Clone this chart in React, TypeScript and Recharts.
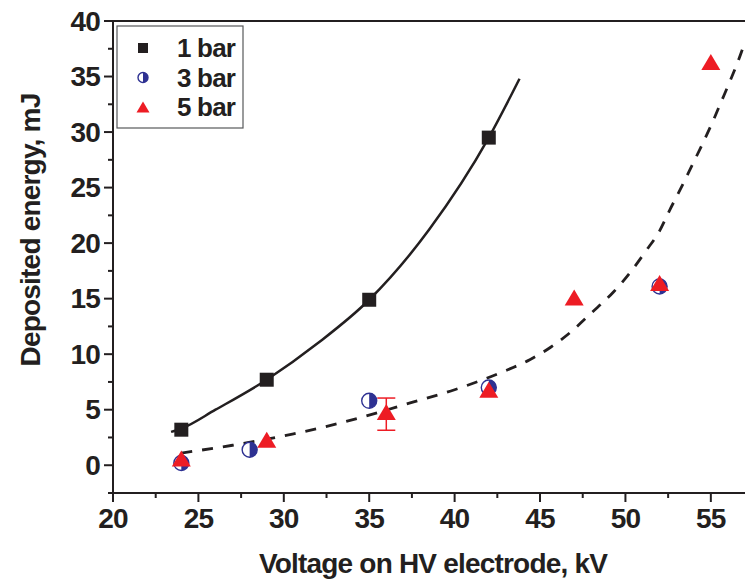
import React from 'react';
import { ComposedChart, Line, Scatter, XAxis, YAxis, ErrorBar, ReferenceLine } from 'recharts';

const INK = '#231f20';
const BLUE = '#2e3192';
const RED = '#ed1c24';
const FONT = '"Liberation Sans", Arial, Helvetica, sans-serif';

// measured points
const bar1 = [
	{ x: 24, y: 3.2 },
	{ x: 29, y: 7.7 },
	{ x: 35, y: 14.9 },
	{ x: 42, y: 29.5 },
];
const bar3 = [
	{ x: 24, y: 0.2 },
	{ x: 28, y: 1.4 },
	{ x: 35, y: 5.8 },
	{ x: 42, y: 7.0 },
	{ x: 52, y: 16.1 },
];
const bar5 = [
	{ x: 24, y: 0.6 },
	{ x: 29, y: 2.3 },
	{ x: 36, y: 4.8, err: [1.65, 1.25] },
	{ x: 42, y: 6.8 },
	{ x: 47, y: 15.1 },
	{ x: 52, y: 16.4 },
	{ x: 55, y: 36.3 },
];

// fitted curves
const fit1 = [
	{ x: 23.4, y: 3.0 },
	{ x: 24, y: 3.3 },
	{ x: 26, y: 5.0 },
	{ x: 29, y: 7.7 },
	{ x: 32, y: 11.0 },
	{ x: 35, y: 14.9 },
	{ x: 38.5, y: 21.2 },
	{ x: 42, y: 29.5 },
	{ x: 43.8, y: 34.8 },
];
const fit35 = [
	{ x: 24, y: 1.1 },
	{ x: 27, y: 1.8 },
	{ x: 30.5, y: 2.8 },
	{ x: 33.3, y: 3.8 },
	{ x: 37.6, y: 5.7 },
	{ x: 40, y: 6.8 },
	{ x: 42.8, y: 8.4 },
	{ x: 44.4, y: 9.5 },
	{ x: 45.6, y: 10.6 },
	{ x: 46.8, y: 12.0 },
	{ x: 48, y: 13.7 },
	{ x: 49.3, y: 15.6 },
	{ x: 50.3, y: 17.4 },
	{ x: 51.2, y: 19.3 },
	{ x: 52, y: 21.1 },
	{ x: 52.6, y: 23.0 },
	{ x: 53.3, y: 25.1 },
	{ x: 53.9, y: 27.0 },
	{ x: 54.5, y: 28.9 },
	{ x: 55.1, y: 30.9 },
	{ x: 55.6, y: 32.7 },
	{ x: 56.1, y: 34.5 },
	{ x: 56.6, y: 36.4 },
	{ x: 57, y: 38.1 },
];

const xMajor = [20, 25, 30, 35, 40, 45, 50, 55];
const xMinor = [22.5, 27.5, 32.5, 37.5, 42.5, 47.5, 52.5];
const yMajor = [0, 5, 10, 15, 20, 25, 30, 35, 40];
const yMinor = [-2.5, 2.5, 7.5, 12.5, 17.5, 22.5, 27.5, 32.5, 37.5];

const legendItems = ['1 bar', '3 bar', '5 bar'];

const textStyle = (size: number) => ({
	fontFamily: FONT,
	fontWeight: 700,
	fontSize: size,
	letterSpacing: -0.8,
});

const Square = ({ cx, cy, s = 14 }: any) => (
	<rect x={cx - s / 2} y={cy - s / 2} width={s} height={s} fill={INK} />
);

const HalfCircle = ({ cx, cy, r = 7.5 }: any) => (
	<g>
		<circle cx={cx} cy={cy} r={r} fill="#fff" stroke={BLUE} strokeWidth={1.4} />
		<path d={`M${cx},${cy - r} A${r},${r} 0 0 1 ${cx},${cy + r} Z`} fill={BLUE} />
	</g>
);

const Triangle = ({ cx, cy, w = 19, h = 16 }: any) => (
	<polygon
		points={`${cx},${cy - h / 2} ${cx + w / 2},${cy + h / 2} ${cx - w / 2},${cy + h / 2}`}
		fill={RED}
	/>
);

const XTick = ({ x, y, payload }: any) => {
	const major = xMajor.includes(payload.value);
	return (
		<g>
			<line x1={x} x2={x} y1={y} y2={y + (major ? 9 : 5)} stroke={INK} strokeWidth={2} />
			{major && (
				<text x={x} y={y + 25} textAnchor="middle" dominantBaseline="central" fill={INK} style={textStyle(28)}>
					{payload.value}
				</text>
			)}
		</g>
	);
};

const YTick = ({ x, y, payload }: any) => {
	const major = yMajor.includes(payload.value);
	return (
		<g>
			<line x1={x} x2={x - (major ? 9 : 5)} y1={y} y2={y} stroke={INK} strokeWidth={2} />
			{major && (
				<text x={x - 13} y={y} textAnchor="end" dominantBaseline="central" fill={INK} style={textStyle(28)}>
					{payload.value}
				</text>
			)}
		</g>
	);
};

const XTitle = ({ viewBox }: any) => (
	<text x={viewBox.x + viewBox.width / 2 + 4} y={viewBox.y + 70} textAnchor="middle" dominantBaseline="central"
		fill={INK} style={textStyle(28)}>
		Voltage on HV electrode, kV
	</text>
);

const YTitle = ({ viewBox }: any) => {
	const cx = viewBox.x + 30;
	const cy = viewBox.y + viewBox.height / 2 - 27;
	return (
		<text x={cx} y={cy} textAnchor="middle" dominantBaseline="central" transform={`rotate(-90 ${cx} ${cy})`}
			fill={INK} style={textStyle(28)}>
			Deposited energy, mJ
		</text>
	);
};

const LegendBox = () => (
	<svg width={128} height={104} style={{ position: 'absolute', left: 116, top: 25 }}>
		<rect x={1} y={1} width={126} height={102} fill="#fff" stroke="#58595b" strokeWidth={1.2} />
		{legendItems.map((name, i) => {
			const cy = 23 + i * 29.5;
			return (
				<g key={name}>
					{i === 0 && <Square cx={27} cy={cy} s={10} />}
					{i === 1 && <HalfCircle cx={27} cy={cy} r={5} />}
					{i === 2 && <Triangle cx={27} cy={cy} w={13} h={11} />}
					<text x={61} y={cy} dominantBaseline="central" fill={INK} style={textStyle(26)}>
						{name}
					</text>
				</g>
			);
		})}
	</svg>
);

const App = () => {
	return (
		<div style={{ position: 'absolute', left: 0, top: 0, width: 745, height: 583, background: '#fff' }}>
			<ComposedChart width={745} height={583} margin={{ top: 21, right: 0, bottom: 0, left: 0 }}>
				<XAxis
					type="number"
					dataKey="x"
					domain={[20, 57]}
					ticks={[...xMajor, ...xMinor].sort((a, b) => a - b)}
					interval={0}
					height={90}
					tickSize={0}
					tickMargin={0}
					tickLine={false}
					axisLine={{ stroke: INK, strokeWidth: 2 }}
					tick={<XTick />}
					label={<XTitle />}
					allowDataOverflow
				/>
				<YAxis
					type="number"
					dataKey="y"
					domain={[-2.5, 40]}
					ticks={[...yMinor, ...yMajor].sort((a, b) => a - b)}
					interval={0}
					width={113}
					tickSize={0}
					tickMargin={0}
					tickLine={false}
					axisLine={{ stroke: INK, strokeWidth: 2 }}
					tick={<YTick />}
					label={<YTitle />}
					allowDataOverflow
				/>
				<ReferenceLine y={40} stroke={INK} strokeWidth={2} />
				<Line data={fit1} dataKey="y" type="monotone" stroke={INK} strokeWidth={2.5} dot={false}
					isAnimationActive={false} />
				<Line data={fit35} dataKey="y" type="monotone" stroke={INK} strokeWidth={2.8} strokeDasharray="11 10"
					dot={false} isAnimationActive={false} />
				<Scatter name="3 bar" data={bar3} shape={<HalfCircle />} isAnimationActive={false} />
				<Scatter name="5 bar" data={bar5} shape={<Triangle />} isAnimationActive={false}>
					<ErrorBar dataKey="err" direction="y" width={9} stroke={RED} strokeWidth={1.5} />
				</Scatter>
				<Scatter name="1 bar" data={bar1} shape={<Square />} isAnimationActive={false} />
			</ComposedChart>
			<LegendBox />
		</div>
	);
};

export default App;
